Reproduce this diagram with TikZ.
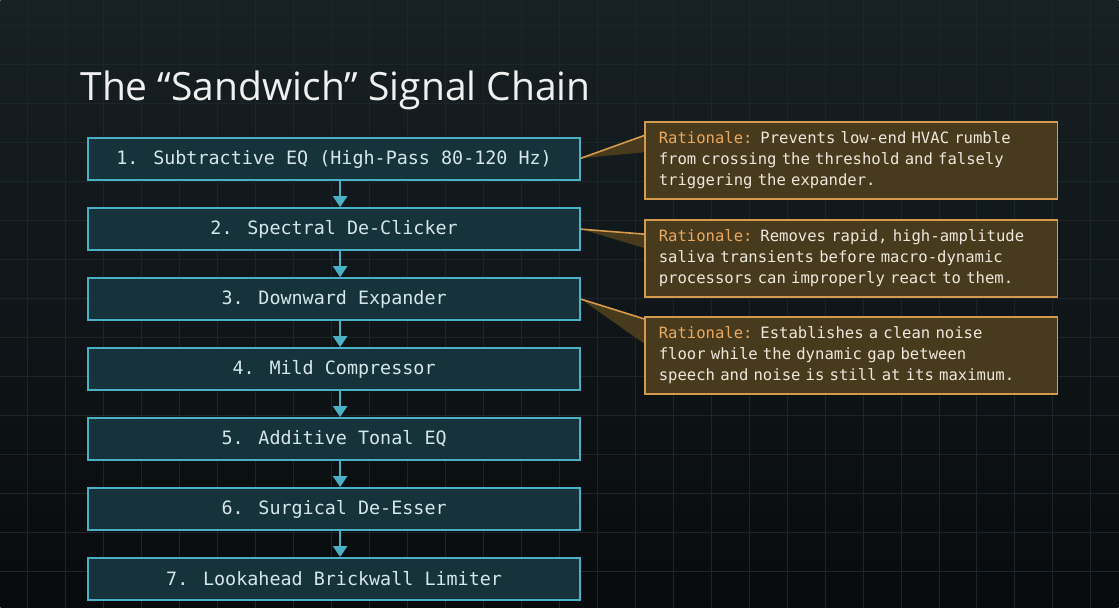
\documentclass[tikz,border=0pt]{standalone}
\usepackage{fontspec}
\usepackage{tikz}
\usetikzlibrary{arrows.meta}
\usetikzlibrary{calc}

\newfontfamily\titlefont{Open Sans}
\newfontfamily\stagefont{DejaVu Sans Mono}

\definecolor{bgtop}{HTML}{172024}
\definecolor{bgbottom}{HTML}{080B0D}
\definecolor{gridline}{HTML}{1C2529}
\definecolor{stagefill}{HTML}{16323A}
\definecolor{stageedge}{HTML}{4AB0C6}
\definecolor{stagetext}{HTML}{D5E6EA}
\definecolor{notefill}{HTML}{483A1C}
\definecolor{noteedge}{HTML}{D69A4E}
\definecolor{notehead}{HTML}{EAA960}
\definecolor{notetext}{HTML}{EDE8DE}

\begin{document}
\begin{tikzpicture}[x=1pt,y=-1pt,
    stage/.style={draw=stageedge, line width=2pt, fill=stagefill, minimum width=492pt, minimum height=42pt, inner sep=0pt, text=stagetext, font=\stagefont\fontsize{18.4}{20}\selectfont},
    rationale/.style={draw=noteedge, line width=1.6pt, fill=notefill, anchor=north west, minimum height=77pt, text width=385pt, inner xsep=14pt, text=notetext, font=\stagefont\fontsize{15.6}{21}\selectfont},
    flow/.style={draw=stageedge, line width=2.5pt, -{Triangle[width=14pt,length=11pt]}},
    pointer/.style={draw=noteedge, line width=1.6pt, fill=notefill, line join=miter}]
    % Background and faint grid
    \shade[top color=bgtop, bottom color=bgbottom] (0,0) rectangle (1119,608);
    \foreach \gx in {27,65,...,1119} \draw[gridline, line width=0.6pt] (\gx,0) -- (\gx,608);
    \foreach \gy in {25,64,...,608} \draw[gridline, line width=0.6pt] (0,\gy) -- (1119,\gy);
    \useasboundingbox (0,0) rectangle (1119,608);

    % Title
    \node[anchor=base west, inner sep=0pt, text=white!88!gray, font=\titlefont\fontsize{39}{44}\selectfont] (title) at (80,100) {The “Sandwich” Signal Chain};

    % Signal chain
    \node[stage] (s1) at (334,159) {1. Subtractive EQ (High-Pass 80-120 Hz)};
    \node[stage] (s2) at (334,229) {2. Spectral De-Clicker};
    \node[stage] (s3) at (334,299) {3. Downward Expander};
    \node[stage] (s4) at (334,369) {4. Mild Compressor};
    \node[stage] (s5) at (334,439) {5. Additive Tonal EQ};
    \node[stage] (s6) at (334,509) {6. Surgical De-Esser};
    \node[stage] (s7) at (334,579) {7. Lookahead Brickwall Limiter};
    \foreach \a/\b in {s1/s2,s2/s3,s3/s4,s4/s5,s5/s6,s6/s7}
        \draw[flow] ([xshift=6pt]\a.south) -- ([xshift=6pt]\b.north);

    % Rationale callouts
    \node[rationale] (r1) at (644,121) {\textcolor{notehead}{Rationale:} Prevents low-end HVAC rumble\\ from crossing the threshold and falsely\\ triggering the expander.};
    \node[rationale] (r2) at (644,219) {\textcolor{notehead}{Rationale:} Removes rapid, high-amplitude\\ saliva transients before macro-dynamic\\ processors can improperly react to them.};
    \node[rationale] (r3) at (644,316) {\textcolor{notehead}{Rationale:} Establishes a clean noise\\ floor while the dynamic gap between\\ speech and noise is still at its maximum.};
    \draw[pointer] ([yshift=1pt]s1.east) -- ($(r1.north west)+(1,14)$) -- ($(r1.north west)+(1,31)$);
    \draw[pointer] (s2.east) -- ($(r2.north west)+(1,15)$) -- ($(r2.north west)+(1,29)$);
    \draw[pointer] (s3.east) -- ($(r3.north west)+(1,3)$) -- ($(r3.north west)+(1,28)$);
\end{tikzpicture}
\end{document}
